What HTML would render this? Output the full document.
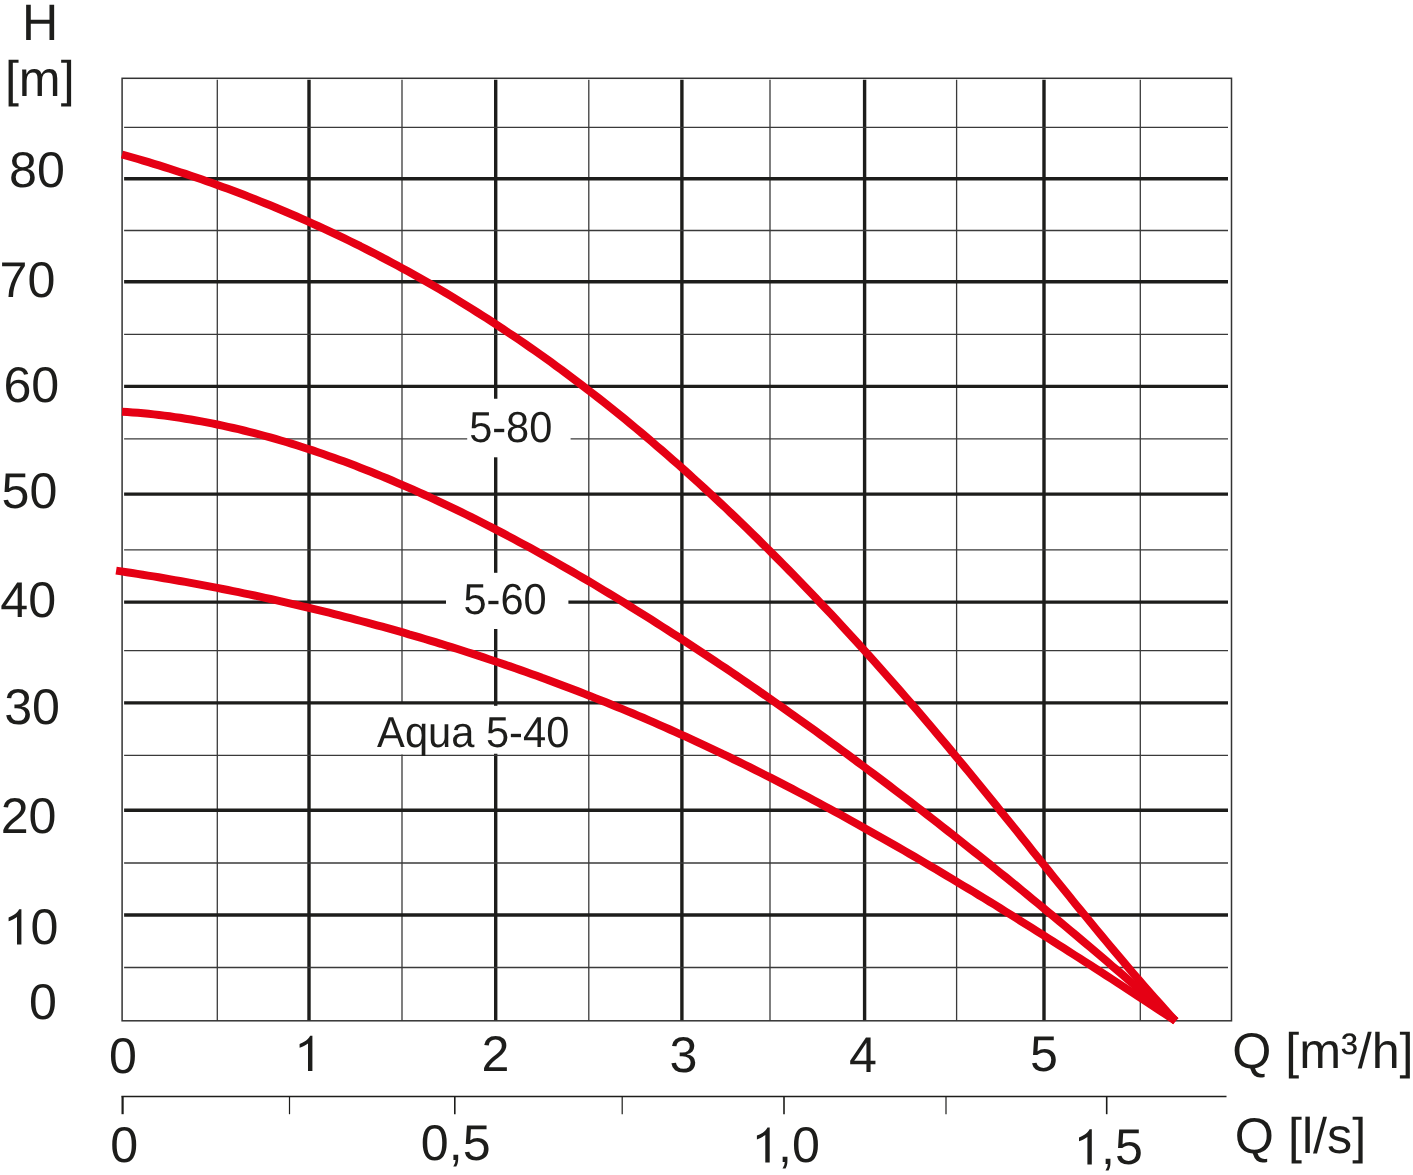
<!DOCTYPE html>
<html><head><meta charset="utf-8"><style>
html,body{margin:0;padding:0;background:#fff;width:1413px;height:1175px;overflow:hidden}
svg{display:block;will-change:transform}
text{font-family:"Liberation Sans",sans-serif;fill:#1d1d1b;text-rendering:geometricPrecision}
</style></head><body>
<svg width="1413" height="1175" viewBox="0 0 1413 1175">
<rect width="1413" height="1175" fill="#fff"/>
<line x1="217.3" y1="79.8" x2="217.3" y2="1020.8" stroke="#3a3a3a" stroke-width="1.3"/>
<line x1="309" y1="79.8" x2="309" y2="1020.8" stroke="#1d1d1b" stroke-width="3.4"/>
<line x1="402" y1="79.8" x2="402" y2="704.0" stroke="#3a3a3a" stroke-width="1.3"/>
<line x1="402" y1="754.5" x2="402" y2="1020.8" stroke="#3a3a3a" stroke-width="1.3"/>
<line x1="495.7" y1="79.8" x2="495.7" y2="398.7" stroke="#1d1d1b" stroke-width="3.4"/>
<line x1="495.7" y1="457.3" x2="495.7" y2="572.8" stroke="#1d1d1b" stroke-width="3.4"/>
<line x1="495.7" y1="629.0" x2="495.7" y2="705.8" stroke="#1d1d1b" stroke-width="3.4"/>
<line x1="495.7" y1="753.8" x2="495.7" y2="1020.8" stroke="#1d1d1b" stroke-width="3.4"/>
<line x1="588.8" y1="79.8" x2="588.8" y2="1020.8" stroke="#3a3a3a" stroke-width="1.3"/>
<line x1="681.9" y1="79.8" x2="681.9" y2="1020.8" stroke="#1d1d1b" stroke-width="3.4"/>
<line x1="770" y1="79.8" x2="770" y2="1020.8" stroke="#3a3a3a" stroke-width="1.3"/>
<line x1="864.6" y1="79.8" x2="864.6" y2="1020.8" stroke="#1d1d1b" stroke-width="3.4"/>
<line x1="956.6" y1="79.8" x2="956.6" y2="1020.8" stroke="#3a3a3a" stroke-width="1.3"/>
<line x1="1044" y1="79.8" x2="1044" y2="1020.8" stroke="#1d1d1b" stroke-width="3.4"/>
<line x1="1140.3" y1="79.8" x2="1140.3" y2="1020.8" stroke="#3a3a3a" stroke-width="1.3"/>
<line x1="124.1" y1="127.3" x2="1228.0" y2="127.3" stroke="#3a3a3a" stroke-width="1.3"/>
<line x1="124.1" y1="178.8" x2="1228.0" y2="178.8" stroke="#1d1d1b" stroke-width="3.4"/>
<line x1="124.1" y1="230.5" x2="1228.0" y2="230.5" stroke="#3a3a3a" stroke-width="1.3"/>
<line x1="124.1" y1="281.7" x2="1228.0" y2="281.7" stroke="#1d1d1b" stroke-width="3.4"/>
<line x1="124.1" y1="334.3" x2="1228.0" y2="334.3" stroke="#3a3a3a" stroke-width="1.3"/>
<line x1="124.1" y1="386.4" x2="1228.0" y2="386.4" stroke="#1d1d1b" stroke-width="3.4"/>
<line x1="124.1" y1="438.8" x2="467.2" y2="438.8" stroke="#3a3a3a" stroke-width="1.3"/>
<line x1="570.6" y1="438.8" x2="1228.0" y2="438.8" stroke="#3a3a3a" stroke-width="1.3"/>
<line x1="124.1" y1="494.1" x2="1228.0" y2="494.1" stroke="#1d1d1b" stroke-width="3.4"/>
<line x1="124.1" y1="549.8" x2="1228.0" y2="549.8" stroke="#3a3a3a" stroke-width="1.3"/>
<line x1="124.1" y1="602.1" x2="446.0" y2="602.1" stroke="#1d1d1b" stroke-width="3.4"/>
<line x1="568.4" y1="602.1" x2="1228.0" y2="602.1" stroke="#1d1d1b" stroke-width="3.4"/>
<line x1="124.1" y1="650.6" x2="1228.0" y2="650.6" stroke="#3a3a3a" stroke-width="1.3"/>
<line x1="124.1" y1="702.9" x2="1228.0" y2="702.9" stroke="#1d1d1b" stroke-width="3.4"/>
<line x1="124.1" y1="755.4" x2="1228.0" y2="755.4" stroke="#3a3a3a" stroke-width="1.3"/>
<line x1="124.1" y1="810.3" x2="1228.0" y2="810.3" stroke="#1d1d1b" stroke-width="3.4"/>
<line x1="124.1" y1="863" x2="1228.0" y2="863" stroke="#3a3a3a" stroke-width="1.3"/>
<line x1="124.1" y1="915" x2="1228.0" y2="915" stroke="#1d1d1b" stroke-width="3.4"/>
<line x1="124.1" y1="967.5" x2="1228.0" y2="967.5" stroke="#3a3a3a" stroke-width="1.3"/>
<rect x="122.1" y="78.3" width="1109.4" height="942.5" fill="none" stroke="#333333" stroke-width="1.5"/>
<line x1="121.39999999999999" y1="1096.5" x2="1226.5" y2="1096.5" stroke="#1d1d1b" stroke-width="1.6"/>
<line x1="122.6" y1="1096.5" x2="122.6" y2="1114.2" stroke="#1d1d1b" stroke-width="2.2"/>
<line x1="289.5" y1="1096.5" x2="289.5" y2="1114.2" stroke="#1d1d1b" stroke-width="1.2"/>
<line x1="454.8" y1="1096.5" x2="454.8" y2="1114.2" stroke="#1d1d1b" stroke-width="1.6"/>
<line x1="622.2" y1="1096.5" x2="622.2" y2="1114.2" stroke="#1d1d1b" stroke-width="1.2"/>
<line x1="784" y1="1096.5" x2="784" y2="1114.2" stroke="#1d1d1b" stroke-width="1.6"/>
<line x1="946" y1="1096.5" x2="946" y2="1114.2" stroke="#1d1d1b" stroke-width="1.2"/>
<line x1="1106.7" y1="1096.5" x2="1106.7" y2="1114.2" stroke="#1d1d1b" stroke-width="1.6"/>
<path d="M122.0,154.5 L127.3,156.0 L132.6,157.5 L137.9,159.0 L143.2,160.6 L148.5,162.2 L153.8,163.8 L159.1,165.4 L164.4,167.1 L169.7,168.8 L174.9,170.5 L180.2,172.2 L185.5,173.9 L190.8,175.7 L196.1,177.5 L201.4,179.3 L206.7,181.2 L212.0,183.1 L217.3,185.0 L222.6,186.9 L227.9,188.8 L233.2,190.8 L238.5,192.8 L243.8,194.8 L249.1,196.9 L254.4,198.9 L259.7,201.1 L265.0,203.2 L270.2,205.3 L275.5,207.5 L280.8,209.7 L286.1,212.0 L291.4,214.2 L296.7,216.5 L302.0,218.8 L307.3,221.2 L312.6,223.6 L317.9,226.0 L323.2,228.4 L328.5,230.9 L333.8,233.4 L339.1,235.9 L344.4,238.4 L349.7,241.0 L355.0,243.6 L360.3,246.2 L365.5,248.9 L370.8,251.6 L376.1,254.3 L381.4,257.1 L386.7,259.9 L392.0,262.7 L397.3,265.5 L402.6,268.4 L407.9,271.3 L413.2,274.2 L418.5,277.2 L423.8,280.2 L429.1,283.2 L434.4,286.3 L439.7,289.4 L445.0,292.5 L450.3,295.7 L455.6,298.9 L460.8,302.1 L466.1,305.4 L471.4,308.7 L476.7,312.0 L482.0,315.4 L487.3,318.7 L492.6,322.2 L497.9,325.6 L503.2,329.1 L508.5,332.7 L513.8,336.2 L519.1,339.8 L524.4,343.4 L529.7,347.1 L535.0,350.8 L540.3,354.5 L545.6,358.3 L550.9,362.1 L556.1,366.0 L561.4,369.8 L566.7,373.8 L572.0,377.7 L577.3,381.7 L582.6,385.7 L587.9,389.8 L593.2,393.9 L598.5,398.0 L603.8,402.2 L609.1,406.4 L614.4,410.6 L619.7,414.9 L625.0,419.2 L630.3,423.6 L635.6,428.0 L640.9,432.4 L646.2,436.8 L651.4,441.3 L656.7,445.9 L662.0,450.4 L667.3,455.0 L672.6,459.7 L677.9,464.3 L683.2,469.0 L688.5,473.8 L693.8,478.6 L699.1,483.4 L704.4,488.2 L709.7,493.1 L715.0,498.0 L720.3,503.0 L725.6,507.9 L730.9,513.0 L736.2,518.0 L741.5,523.1 L746.7,528.2 L752.0,533.4 L757.3,538.5 L762.6,543.8 L767.9,549.0 L773.2,554.3 L778.5,559.6 L783.8,565.0 L789.1,570.4 L794.4,575.8 L799.7,581.2 L805.0,586.7 L810.3,592.2 L815.6,597.8 L820.9,603.4 L826.2,609.0 L831.5,614.6 L836.8,620.3 L842.0,626.0 L847.3,631.7 L852.6,637.5 L857.9,643.3 L863.2,649.2 L868.5,655.0 L873.8,660.9 L879.1,666.9 L884.4,672.8 L889.7,678.8 L895.0,684.8 L900.3,690.9 L905.6,697.0 L910.9,703.1 L916.2,709.2 L921.5,715.4 L926.8,721.6 L932.1,727.8 L937.3,734.1 L942.6,740.4 L947.9,746.7 L953.2,753.1 L958.5,759.5 L963.8,765.9 L969.1,772.3 L974.4,778.8 L979.7,785.3 L985.0,791.8 L990.3,798.3 L995.6,804.8 L1000.9,811.4 L1006.2,818.0 L1011.5,824.5 L1016.8,831.1 L1022.1,837.7 L1027.4,844.3 L1032.6,850.9 L1037.9,857.5 L1043.2,864.1 L1048.5,870.6 L1053.8,877.2 L1059.1,883.8 L1064.4,890.3 L1069.7,896.8 L1075.0,903.4 L1080.3,909.9 L1085.6,916.3 L1090.9,922.8 L1096.2,929.2 L1101.5,935.6 L1106.8,942.0 L1112.1,948.3 L1117.4,954.6 L1122.7,960.9 L1127.9,967.1 L1133.2,973.3 L1138.5,979.4 L1143.8,985.5 L1149.1,991.6 L1154.4,997.6 L1159.7,1003.5 L1165.0,1009.4 L1170.3,1015.3 L1175.6,1021.0" fill="none" stroke="#e50014" stroke-width="8.0" stroke-linecap="butt" stroke-linejoin="round"/>
<path d="M122.0,411.7 L127.3,412.0 L132.6,412.4 L137.9,412.8 L143.2,413.3 L148.5,413.8 L153.8,414.4 L159.1,415.0 L164.4,415.6 L169.7,416.3 L174.9,417.1 L180.2,417.8 L185.5,418.7 L190.8,419.5 L196.1,420.5 L201.4,421.4 L206.7,422.4 L212.0,423.4 L217.3,424.5 L222.6,425.6 L227.9,426.8 L233.2,428.0 L238.5,429.2 L243.8,430.5 L249.1,431.8 L254.4,433.1 L259.7,434.5 L265.0,436.0 L270.2,437.4 L275.5,438.9 L280.8,440.5 L286.1,442.0 L291.4,443.6 L296.7,445.3 L302.0,447.0 L307.3,448.7 L312.6,450.4 L317.9,452.2 L323.2,454.0 L328.5,455.9 L333.8,457.8 L339.1,459.7 L344.4,461.6 L349.7,463.6 L355.0,465.6 L360.3,467.7 L365.5,469.7 L370.8,471.8 L376.1,474.0 L381.4,476.1 L386.7,478.3 L392.0,480.5 L397.3,482.8 L402.6,485.1 L407.9,487.4 L413.2,489.7 L418.5,492.1 L423.8,494.5 L429.1,496.9 L434.4,499.3 L439.7,501.8 L445.0,504.3 L450.3,506.8 L455.6,509.4 L460.8,511.9 L466.1,514.5 L471.4,517.1 L476.7,519.8 L482.0,522.5 L487.3,525.2 L492.6,527.9 L497.9,530.6 L503.2,533.4 L508.5,536.2 L513.8,539.0 L519.1,541.9 L524.4,544.7 L529.7,547.6 L535.0,550.5 L540.3,553.5 L545.6,556.4 L550.9,559.4 L556.1,562.4 L561.4,565.4 L566.7,568.4 L572.0,571.5 L577.3,574.6 L582.6,577.7 L587.9,580.8 L593.2,583.9 L598.5,587.1 L603.8,590.3 L609.1,593.5 L614.4,596.7 L619.7,599.9 L625.0,603.2 L630.3,606.5 L635.6,609.8 L640.9,613.1 L646.2,616.4 L651.4,619.7 L656.7,623.1 L662.0,626.5 L667.3,629.9 L672.6,633.3 L677.9,636.7 L683.2,640.1 L688.5,643.6 L693.8,647.1 L699.1,650.6 L704.4,654.1 L709.7,657.6 L715.0,661.1 L720.3,664.7 L725.6,668.2 L730.9,671.8 L736.2,675.4 L741.5,679.0 L746.7,682.6 L752.0,686.3 L757.3,689.9 L762.6,693.6 L767.9,697.3 L773.2,701.0 L778.5,704.7 L783.8,708.4 L789.1,712.2 L794.4,716.0 L799.7,719.7 L805.0,723.5 L810.3,727.3 L815.6,731.1 L820.9,735.0 L826.2,738.8 L831.5,742.7 L836.8,746.5 L842.0,750.4 L847.3,754.3 L852.6,758.2 L857.9,762.2 L863.2,766.1 L868.5,770.1 L873.8,774.0 L879.1,778.0 L884.4,782.0 L889.7,786.0 L895.0,790.1 L900.3,794.1 L905.6,798.1 L910.9,802.2 L916.2,806.3 L921.5,810.4 L926.8,814.5 L932.1,818.6 L937.3,822.7 L942.6,826.9 L947.9,831.0 L953.2,835.2 L958.5,839.4 L963.8,843.6 L969.1,847.8 L974.4,852.0 L979.7,856.2 L985.0,860.4 L990.3,864.7 L995.6,869.0 L1000.9,873.3 L1006.2,877.5 L1011.5,881.8 L1016.8,886.2 L1022.1,890.5 L1027.4,894.8 L1032.6,899.2 L1037.9,903.5 L1043.2,907.9 L1048.5,912.3 L1053.8,916.7 L1059.1,921.1 L1064.4,925.5 L1069.7,930.0 L1075.0,934.4 L1080.3,938.9 L1085.6,943.3 L1090.9,947.8 L1096.2,952.3 L1101.5,956.8 L1106.8,961.3 L1112.1,965.9 L1117.4,970.4 L1122.7,974.9 L1127.9,979.5 L1133.2,984.1 L1138.5,988.6 L1143.8,993.2 L1149.1,997.8 L1154.4,1002.4 L1159.7,1007.1 L1165.0,1011.7 L1170.3,1016.3 L1175.6,1021.0" fill="none" stroke="#e50014" stroke-width="8.0" stroke-linecap="butt" stroke-linejoin="round"/>
<path d="M116.1,570.6 L121.4,571.4 L126.7,572.2 L132.1,573.0 L137.4,573.9 L142.7,574.7 L148.0,575.6 L153.4,576.4 L158.7,577.3 L164.0,578.2 L169.3,579.1 L174.7,580.1 L180.0,581.0 L185.3,581.9 L190.6,582.9 L196.0,583.9 L201.3,584.9 L206.6,585.9 L211.9,586.9 L217.3,587.9 L222.6,589.0 L227.9,590.0 L233.2,591.1 L238.6,592.2 L243.9,593.3 L249.2,594.4 L254.5,595.5 L259.9,596.7 L265.2,597.8 L270.5,599.0 L275.8,600.2 L281.1,601.4 L286.5,602.6 L291.8,603.8 L297.1,605.0 L302.4,606.3 L307.8,607.5 L313.1,608.8 L318.4,610.1 L323.7,611.4 L329.1,612.7 L334.4,614.1 L339.7,615.4 L345.0,616.8 L350.4,618.2 L355.7,619.6 L361.0,621.0 L366.3,622.4 L371.7,623.8 L377.0,625.3 L382.3,626.7 L387.6,628.2 L393.0,629.7 L398.3,631.2 L403.6,632.7 L408.9,634.3 L414.3,635.8 L419.6,637.4 L424.9,639.0 L430.2,640.6 L435.5,642.2 L440.9,643.8 L446.2,645.5 L451.5,647.1 L456.8,648.8 L462.2,650.5 L467.5,652.2 L472.8,653.9 L478.1,655.6 L483.5,657.4 L488.8,659.2 L494.1,661.0 L499.4,662.8 L504.8,664.6 L510.1,666.4 L515.4,668.3 L520.7,670.1 L526.1,672.0 L531.4,673.9 L536.7,675.8 L542.0,677.8 L547.4,679.7 L552.7,681.7 L558.0,683.7 L563.3,685.7 L568.7,687.7 L574.0,689.7 L579.3,691.8 L584.6,693.9 L589.9,695.9 L595.3,698.1 L600.6,700.2 L605.9,702.3 L611.2,704.5 L616.6,706.7 L621.9,708.9 L627.2,711.1 L632.5,713.3 L637.9,715.6 L643.2,717.8 L648.5,720.1 L653.8,722.4 L659.2,724.8 L664.5,727.1 L669.8,729.5 L675.1,731.9 L680.5,734.3 L685.8,736.7 L691.1,739.1 L696.4,741.6 L701.8,744.1 L707.1,746.6 L712.4,749.1 L717.7,751.6 L723.0,754.2 L728.4,756.7 L733.7,759.3 L739.0,761.9 L744.3,764.5 L749.7,767.2 L755.0,769.8 L760.3,772.5 L765.6,775.2 L771.0,777.9 L776.3,780.6 L781.6,783.4 L786.9,786.1 L792.3,788.9 L797.6,791.7 L802.9,794.5 L808.2,797.3 L813.6,800.2 L818.9,803.0 L824.2,805.9 L829.5,808.8 L834.9,811.7 L840.2,814.6 L845.5,817.5 L850.8,820.4 L856.2,823.4 L861.5,826.4 L866.8,829.4 L872.1,832.4 L877.4,835.4 L882.8,838.4 L888.1,841.4 L893.4,844.5 L898.7,847.5 L904.1,850.6 L909.4,853.7 L914.7,856.8 L920.0,859.9 L925.4,863.1 L930.7,866.2 L936.0,869.3 L941.3,872.5 L946.7,875.7 L952.0,878.9 L957.3,882.1 L962.6,885.3 L968.0,888.5 L973.3,891.7 L978.6,895.0 L983.9,898.2 L989.3,901.5 L994.6,904.7 L999.9,908.0 L1005.2,911.3 L1010.6,914.6 L1015.9,917.9 L1021.2,921.3 L1026.5,924.6 L1031.8,927.9 L1037.2,931.3 L1042.5,934.6 L1047.8,938.0 L1053.1,941.4 L1058.5,944.8 L1063.8,948.2 L1069.1,951.6 L1074.4,955.0 L1079.8,958.4 L1085.1,961.8 L1090.4,965.2 L1095.7,968.7 L1101.1,972.1 L1106.4,975.6 L1111.7,979.0 L1117.0,982.5 L1122.4,986.0 L1127.7,989.5 L1133.0,992.9 L1138.3,996.4 L1143.7,999.9 L1149.0,1003.4 L1154.3,1006.9 L1159.6,1010.5 L1165.0,1014.0 L1170.3,1017.5 L1175.6,1021.0" fill="none" stroke="#e50014" stroke-width="8.0" stroke-linecap="butt" stroke-linejoin="round"/>
<text x="9.09" y="187.24" font-size="50.2">80</text>
<text x="-0.41" y="297.24" font-size="50.2">70</text>
<text x="3.39" y="401.64" font-size="50.2">60</text>
<text x="1.49" y="507.64" font-size="50.2">50</text>
<text x="0.30" y="617.04" font-size="50.2">40</text>
<text x="4.19" y="724.34" font-size="50.2">30</text>
<text x="0.69" y="833.14" font-size="50.2">20</text>
<text x="30.49" y="944.14" font-size="50.2">0</text>
<text x="28.99" y="1019.24" font-size="50.2">0</text>
<text x="109.09" y="1072.64" font-size="50.2">0</text>
<text x="481.49" y="1070.94" font-size="50.2">2</text>
<text x="669.59" y="1071.94" font-size="50.2">3</text>
<text x="849.10" y="1072.04" font-size="50.2">4</text>
<text x="1030.09" y="1070.84" font-size="50.2">5</text>
<text x="110.19" y="1161.64" font-size="50.2">0</text>
<text x="420.79" y="1160.24" font-size="50.2">0,5</text>
<text x="777.98" y="1161.94" font-size="50.2">,0</text>
<text x="1101.08" y="1164.44" font-size="50.2">,5</text>
<text transform="translate(21.98,39.60) scale(1,1.0192)" x="0" y="0" font-size="50.2">H</text>
<path transform="translate(312.40,1071.00)" d="M0,0 L0,-35.2 L-2.2,-35.2 C-3.6,-32.6 -5.4,-30.9 -7.4,-29.7 C-9.2,-28.6 -11,-27.8 -12.8,-27.1 L-12.8,-23.2 C-10,-24.2 -6.8,-25.8 -4.4,-27.6 L-4.4,0 Z" fill="#1d1d1b"/>
<path transform="translate(21.40,944.50)" d="M0,0 L0,-35.2 L-2.2,-35.2 C-3.6,-32.6 -5.4,-30.9 -7.4,-29.7 C-9.2,-28.6 -11,-27.8 -12.8,-27.1 L-12.8,-23.2 C-10,-24.2 -6.8,-25.8 -4.4,-27.6 L-4.4,0 Z" fill="#1d1d1b"/>
<path transform="translate(769.70,1162.60)" d="M0,0 L0,-35.2 L-2.2,-35.2 C-3.6,-32.6 -5.4,-30.9 -7.4,-29.7 C-9.2,-28.6 -11,-27.8 -12.8,-27.1 L-12.8,-23.2 C-10,-24.2 -6.8,-25.8 -4.4,-27.6 L-4.4,0 Z" fill="#1d1d1b"/>
<path transform="translate(1091.80,1164.50)" d="M0,0 L0,-35.2 L-2.2,-35.2 C-3.6,-32.6 -5.4,-30.9 -7.4,-29.7 C-9.2,-28.6 -11,-27.8 -12.8,-27.1 L-12.8,-23.2 C-10,-24.2 -6.8,-25.8 -4.4,-27.6 L-4.4,0 Z" fill="#1d1d1b"/>
<text transform="translate(469.14,441.59) scale(0.9591,1)" x="0" y="0" font-size="43.3">5-80</text>
<text transform="translate(463.44,614.09) scale(0.9603,1)" x="0" y="0" font-size="43.3">5-60</text>
<text transform="translate(377.12,746.59) scale(0.9619,1)" x="0" y="0" font-size="43.3">Aqua 5-40</text>
<text x="4.89" y="95.75" font-size="50.2">[m]</text>
<text transform="translate(1232.19,1068.24) scale(1.0006,1)" x="0" y="0" font-size="50.2">Q [m³/h]</text>
<text transform="translate(1234.79,1152.54) scale(1.0032,1)" x="0" y="0" font-size="50.2">Q [l/s]</text>
</svg>
</body></html>
